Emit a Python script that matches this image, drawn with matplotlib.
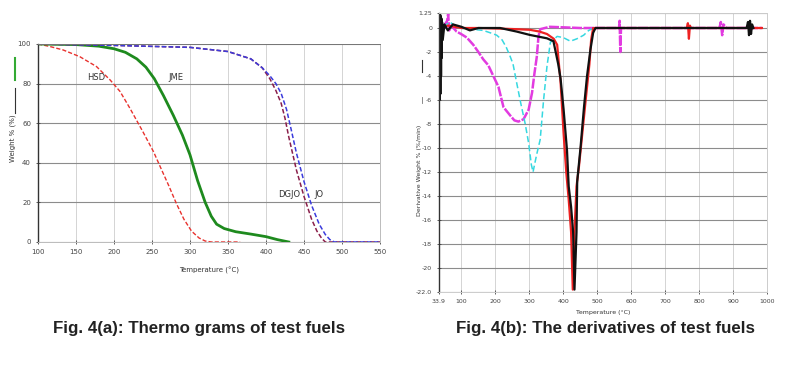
import matplotlib
matplotlib.use("Agg")
import matplotlib.pyplot as plt
from matplotlib.lines import Line2D
from matplotlib import font_manager

# ---------------- data: Fig 4(a) thermograms ----------------
hsd_T = [100, 115, 133, 155, 177, 195, 208, 221, 238, 252, 262, 272, 282, 292, 302, 312, 320, 328, 366]
hsd_W = [100, 98.8, 97, 93.6, 88.6, 81.8, 76, 67.5, 55.7, 45.6, 37, 28.5, 19.5, 11.5, 5.5, 2.0, 0.5, 0, 0]

jme_T = [100, 150, 180, 200, 215, 230, 242, 253, 265, 278, 290, 300, 310, 320, 328, 335, 345, 360, 380, 400, 415, 430]
jme_W = [100, 99.7, 98.9, 97.6, 95.8, 92.5, 88.3, 82.5, 74, 64, 54, 44, 31, 20, 13, 9, 6.8, 5.2, 4, 2.7, 1.2, 0]

dgjo_T = [100, 200, 300, 350, 380, 395, 405, 413, 420, 425, 430, 440, 450, 460, 467, 473, 478, 550]
dgjo_W = [100, 99.3, 98.3, 96.2, 92.5, 88, 82.5, 76.5, 70, 62.5, 53, 36.4, 23, 11.5, 5.5, 2.0, 0, 0]

jo_T = [100, 200, 300, 350, 380, 395, 405, 413, 420, 427, 433, 440, 450, 460, 470, 478, 484, 490, 550]
jo_W = [100, 99.3, 98.3, 96.2, 92.5, 88, 84, 80, 75, 67, 57, 45, 30.5, 18.5, 9.0, 3.8, 1.2, 0, 0]

tg_xticks = [100, 150, 200, 250, 300, 350, 400, 450, 500, 550]
tg_yticks = [0, 20, 40, 60, 80, 100]

# ---------------- data: Fig 4(b) derivatives ----------------
hsd_dT = [47, 58, 61, 64, 70, 86, 99, 116, 135, 150, 164, 179, 194, 209, 224, 244, 256, 268, 283, 298, 308, 315, 322, 327, 332, 360,
          450, 564, 566, 568, 570, 580, 700, 860, 864, 868, 872, 880, 985]
hsd_dD = [0.1, 0.6, 1.2, -0.2, 0.2, -0.3, -0.5, -0.8, -1.4, -2.0, -2.6, -3.1, -4.0, -4.9, -6.6, -7.3, -7.7, -7.8, -7.6, -6.8, -5.4, -3.8, -2.4, -0.7, -0.1, 0.1,
          0.0, 0.0, 0.6, -2.0, 0.0, 0.0, 0.0, 0.0, 0.5, -0.6, 0.3, 0.0, 0.0]

jme_dT = [47, 66, 90, 130, 164, 185, 204, 220, 232, 244, 252, 263, 275, 288, 298, 306, 311, 316, 322, 332, 342, 352, 362, 382, 400, 421, 440, 460, 475, 490, 985]
jme_dD = [0.1, 0.5, 0.0, -0.1, -0.2, -0.4, -0.6, -1.0, -1.6, -2.4, -3.0, -4.6, -6.3, -8.0, -9.6, -11.4, -12.0, -11.3, -10.5, -9.3, -6.0, -3.2, -1.2, -0.7, -0.8, -1.1, -0.9, -0.6, -0.2, 0.0, 0.0]

jo_dT = [35, 60, 100, 150, 214, 263, 302, 330, 352, 372, 382, 392, 401, 409, 416, 423, 428, 433, 439, 446, 456, 466, 477, 482, 488,
         600, 764, 767, 770, 773, 776, 985]
jo_dD = [0.0, 0.2, 0.0, 0.0, -0.05, -0.1, -0.15, -0.3, -0.5, -0.9, -1.4, -4.5, -8.8, -12.1, -14.3, -17.0, -21.8, -17.0, -13.2, -11.6, -8.8, -6.0, -3.0, -1.0, 0.0,
         0.0, 0.0, 0.4, -0.9, 0.2, 0.0, 0.0]

dgjo_dT = [35, 36, 37, 38, 39, 40, 41, 42, 43, 45, 50, 60, 75, 100, 125, 150, 214, 263, 302, 352, 371, 385, 392, 401, 411, 416, 423, 429, 433, 439, 441, 451, 461, 470, 480, 488, 495,
           940, 944, 947, 950, 953, 956, 960]
dgjo_dD = [1.2, -6.0, 1.2, -5.5, 1.0, -4.0, 0.8, -2.5, 0.5, -1.0, 0.3, -0.2, 0.3, 0.1, -0.2, 0.0, 0.0, -0.3, -0.58, -0.86, -1.1, -3.0, -4.2, -6.8, -10.2, -13.2, -14.9, -17.0, -21.8, -17.0, -12.8, -9.9, -6.6, -4.0, -1.8, -0.4, 0.0,
           0.0, 0.5, -0.6, 0.6, -0.5, 0.3, 0.0]

dtg_xticks = [34, 100, 200, 300, 400, 500, 600, 700, 800, 900, 1000]
dtg_xlabels = ["33.9", "100", "200", "300", "400", "500", "600", "700", "800", "900", "1000"]
dtg_yticks = [1.25, 0, -2, -4, -6, -8, -10, -12, -14, -16, -18, -20, -22]
dtg_ylabels = ["1.25", "0", "-2", "-4", "-6", "-8", "-10", "-12", "-14", "-16", "-18", "-20", "-22.0"]

# ---------------- figure ----------------
fig = plt.figure(figsize=(8.08, 3.70), dpi=100)
fig.patch.set_facecolor("white")

tick_fs = 5
lab_fs = 5

# ---- left chart ----
ax1 = fig.add_axes([38/808, 1-242/370, (380-38)/808, (242-44)/370])
ax1.plot(hsd_T, hsd_W, color="#e8322e", lw=1.0, ls=(0, (3, 1.5)))
ax1.plot(jme_T, jme_W, color="#1e8a1e", lw=2.0)
ax1.plot(dgjo_T, dgjo_W, color="#8a1f4a", lw=1.1, ls=(0, (3, 1.5)))
ax1.plot(jo_T, jo_W, color="#3b3bdc", lw=1.1, ls=(0, (3, 1.5)))
ax1.set_xlim(100, 550)
ax1.set_ylim(0, 100)
ax1.set_xticks(tg_xticks)
ax1.set_yticks(tg_yticks)
ax1.tick_params(labelsize=tick_fs, length=3, width=0.6, colors="#444444", direction="inout")
ax1.grid(axis="y", color="#8c8c8c", lw=0.8)
ax1.grid(axis="x", color="#d4d4d4", lw=0.7)
for s in ["top", "right", "bottom"]:
    ax1.spines[s].set_color("#bbbbbb")
    ax1.spines[s].set_linewidth(0.7)
ax1.spines["top"].set_color("#777777")
ax1.spines["left"].set_color("#333333")
ax1.spines["left"].set_linewidth(1.0)
ax1.set_xlabel("Temperature (°C)", fontsize=lab_fs, color="#333333")
ax1.set_ylabel("Weight % (%)", fontsize=lab_fs, color="#333333")
ax1.xaxis.set_label_coords(0.5, -0.125)
ax1.yaxis.set_label_coords(-0.064, 0.525)
ax1.text(164, 83, "HSD", fontsize=6, color="#333333", va="center")
ax1.text(272, 83, "JME", fontsize=6, color="#333333", va="center")
ax1.text(416, 24, "DGJO", fontsize=6, color="#333333", va="center")
ax1.text(463, 24, "JO", fontsize=6, color="#333333", va="center")

fig.add_artist(Line2D([15/808, 15/808], [1-58/370, 1-80/370], color="#33aa33", lw=1.5))
fig.add_artist(Line2D([15/808, 15/808], [1-88/370, 1-113/370], color="#333333", lw=0.8))

# ---- right chart ----
ax2 = fig.add_axes([439/808, 1-292/370, (767-439)/808, (292-13)/370])
ax2.plot(hsd_dT, hsd_dD, color="#e23be0", lw=1.8, ls=(0, (4, 0.6)))
ax2.plot(jme_dT, jme_dD, color="#36d8e0", lw=1.1, ls=(0, (4, 2)))
ax2.plot(jo_dT, jo_dD, color="#ee2222", lw=1.6)
ax2.plot(dgjo_dT, dgjo_dD, color="#111111", lw=1.6)
ax2.set_xlim(34, 1000)
ax2.set_ylim(-22, 1.25)
ax2.set_xticks(dtg_xticks)
ax2.set_xticklabels(dtg_xlabels)
ax2.set_yticks(dtg_yticks)
ax2.set_yticklabels(dtg_ylabels)
ax2.tick_params(labelsize=4.5, length=3, width=0.6, colors="#444444", direction="inout")
ax2.grid(axis="y", color="#8c8c8c", lw=0.8)
ax2.grid(axis="x", color="#d4d4d4", lw=0.7)
for s in ["top", "right", "bottom"]:
    ax2.spines[s].set_color("#cccccc")
    ax2.spines[s].set_linewidth(0.7)
ax2.spines["left"].set_color("#333333")
ax2.spines["left"].set_linewidth(1.0)
ax2.set_xlabel("Temperature (°C)", fontsize=4.5, color="#333333")
ax2.set_ylabel("Derivative Weight % (%/min)", fontsize=4.5, color="#333333")
ax2.xaxis.set_label_coords(0.5, -0.065)
ax2.yaxis.set_label_coords(-0.052, 0.437)
fig.add_artist(Line2D([422/808, 422/808], [1-60/370, 1-72/370], color="#333333", lw=0.8))
fig.add_artist(Line2D([422/808, 422/808], [1-97/370, 1-103/370], color="#777777", lw=0.6))

# ---- captions ----
names = {f.name for f in font_manager.fontManager.ttflist}
cap_family = ["Liberation Sans Narrow", "DejaVu Sans"] if "Liberation Sans Narrow" in names else ["Liberation Sans", "DejaVu Sans"]
fig.text(199/808, 1-329/370, "Fig. 4(a): Thermo grams of test fuels", fontsize=12.2, fontweight="bold",
         family=cap_family, ha="center", va="center", color="#222222")
fig.text(606/808, 1-329/370, "Fig. 4(b): The derivatives of test fuels", fontsize=12.2, fontweight="bold",
         family=cap_family, ha="center", va="center", color="#222222")

fig.savefig("out.png", dpi=100, facecolor="white")
